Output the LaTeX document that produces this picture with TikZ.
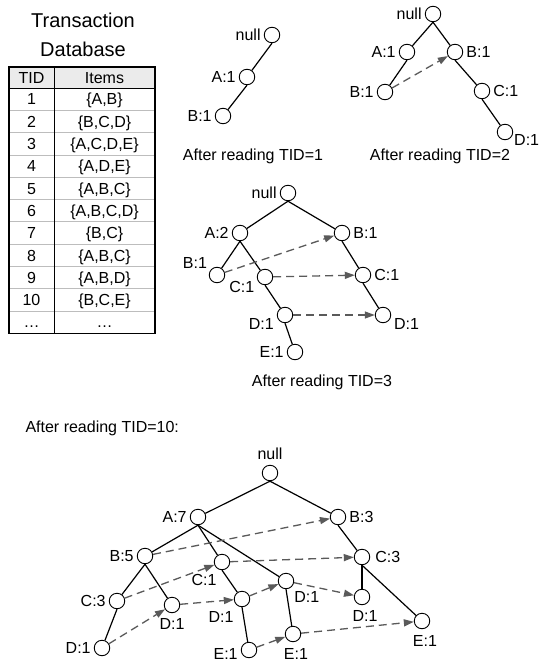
\documentclass[tikz,border=0pt]{standalone}
\usepackage{fontspec}
\setmainfont{Liberation Sans}
\usetikzlibrary{arrows.meta}
\definecolor{linkgray}{HTML}{5A5A5A}
\definecolor{headgray}{HTML}{EBEBEB}
\definecolor{rulegray}{HTML}{BDBDBD}
\begin{document}
\begin{tikzpicture}[x=1pt,y=-1pt,
  every node/.style={font=\fontsize{16}{19}\selectfont},
  vtx/.style={draw,circle,minimum size=15.5pt,inner sep=0pt,line width=0.9pt,fill=white},
  every label/.style={inner sep=1pt},label distance=2pt,
  tedge/.style={line width=1.2pt},
  link/.style={draw=linkgray,line width=1.3pt,dash pattern=on 8pt off 5pt,-{Triangle[length=10pt,width=7pt]}},
  cell/.style={inner sep=0pt,text height=11.5pt,text depth=0pt}]
  \useasboundingbox (0,0) rectangle (541,666);

  % transaction database
  \node[font=\fontsize{20}{29}\selectfont,align=center] (title) at (83,35) {Transaction\\Database};
  \fill[headgray] (9,67) rectangle (155,88);
  \foreach \i in {1,...,10} \draw[rulegray,line width=0.8pt] (9,88+22.3*\i) -- (155,88+22.3*\i);
  \draw[line width=0.8pt] (9,88) -- (155,88);
  \draw[line width=1pt] (54,67) -- (54,333.3);
  \draw[line width=1.5pt] (9,67) rectangle (155,333.3);
  \node[cell] (tidh) at (31.5,77.5) {TID};
  \node[cell] (itemsh) at (104.5,77.5) {Items};
  \foreach \t/\s [count=\k] in {1/{\{A,B\}},2/{\{B,C,D\}},3/{\{A,C,D,E\}},4/{\{A,D,E\}},5/{\{A,B,C\}},
      6/{\{A,B,C,D\}},7/{\{B,C\}},8/{\{A,B,C\}},9/{\{A,B,D\}},10/{\{B,C,E\}},…/…}
  {
    \node[cell] (tid\k) at (31.5,76.9+22.3*\k) {\t};
    \node[cell] (items\k) at (104.5,76.9+22.3*\k) {\s};
  }

  % after TID=1
  \node[vtx,label=left:null] (t1null) at (272,35) {};
  \node[vtx,label=left:A:1] (t1a) at (247,77) {};
  \node[vtx,label=left:B:1] (t1ab) at (223,116) {};
  \draw[tedge] (t1null.south) -- (t1a);
  \draw[tedge] (t1a.south) -- (t1ab);
  \node (cap1) at (253,156) {After reading TID=1};

  % after TID=2
  \node[vtx,label=left:null] (t2null) at (433,14) {};
  \node[vtx,label=left:A:1] (t2a) at (407,52) {};
  \node[vtx,label=right:B:1] (t2b) at (455,52) {};
  \node[vtx,label=left:B:1] (t2ab) at (385,92) {};
  \node[vtx,label=right:C:1] (t2bc) at (482,91) {};
  \node[vtx,label={[label distance=0pt]-12:D:1}] (t2bcd) at (505,132) {};
  \draw[tedge] (t2null.south) -- (t2a);
  \draw[tedge] (t2null.south) -- (t2b);
  \draw[tedge] (t2a.south) -- (t2ab);
  \draw[tedge] (t2b.south) -- (t2bc);
  \draw[tedge] (t2bc.south) -- (t2bcd);
  \draw[link] (t2ab) -- (t2b);
  \node (cap2) at (440,156) {After reading TID=2};

  % after TID=3
  \node[vtx,label=left:null] (t3null) at (288,193) {};
  \node[vtx,label=left:A:2] (t3a) at (240,233) {};
  \node[vtx,label=right:B:1] (t3b) at (342,233) {};
  \node[vtx,label=150:B:1] (t3ab) at (217,275) {};
  \node[vtx,label=200:C:1] (t3ac) at (265,277) {};
  \node[vtx,label=192:D:1] (t3acd) at (285,315) {};
  \node[vtx,label=left:E:1] (t3acde) at (295,352) {};
  \node[vtx,label=right:C:1] (t3bc) at (363,275) {};
  \node[vtx,label=-12:D:1] (t3bcd) at (383,315) {};
  \draw[tedge] (t3null.south) -- (t3a);
  \draw[tedge] (t3null.south) -- (t3b);
  \draw[tedge] (t3a.south) -- (t3ab);
  \draw[tedge] (t3a.south) -- (t3ac);
  \draw[tedge] (t3ac.south) -- (t3acd);
  \draw[tedge] (t3acd.south) -- (t3acde);
  \draw[tedge] (t3b.south) -- (t3bc);
  \draw[tedge] (t3bc.south) -- (t3bcd);
  \draw[link] (t3ab) -- (t3b);
  \draw[link] (t3ac) -- (t3bc);
  \draw[link] (t3acd) -- (t3bcd);
  \node (cap3) at (322,382) {After reading TID=3};

  % after TID=10
  \node[anchor=west] (cap10) at (22,428) {After reading TID=10:};
  \node[vtx,label={[label distance=4pt]above:null}] (t4null) at (270,473) {};
  \node[vtx,label=left:A:7] (t4a) at (198,517) {};
  \node[vtx,label=right:B:3] (t4b) at (338,517) {};
  \node[vtx,label=left:B:5] (t4ab) at (145,556) {};
  \node[vtx,label={[xshift=3pt,yshift=-4pt]below left:C:1}] (t4ac) at (222,562) {};
  \node[vtx,label={[yshift=-2pt]below right:D:1}] (t4ad) at (286,581) {};
  \node[vtx,label={[label distance=4pt]right:C:3}] (t4bc) at (362,557) {};
  \node[vtx,label=left:C:3] (t4abc) at (117,601) {};
  \node[vtx,label={[label distance=4pt]below:D:1}] (t4abd) at (172,605) {};
  \node[vtx,label=left:D:1] (t4abcd) at (102,648) {};
  \node[vtx,label={[yshift=-4pt]below left:D:1}] (t4acd) at (242,599) {};
  \node[vtx,label={[yshift=-4pt]left:E:1}] (t4acde) at (249,650) {};
  \node[vtx,label={[label distance=5pt,xshift=3pt]below:E:1}] (t4ade) at (293,634) {};
  \node[vtx,label={[label distance=4pt,xshift=3pt]below:D:1}] (t4bcd) at (362,597) {};
  \node[vtx,label={[label distance=5pt,xshift=3pt]below:E:1}] (t4bce) at (422,621) {};
  \draw[tedge] (t4null.south) -- (t4a);
  \draw[tedge] (t4null.south) -- (t4b);
  \draw[tedge] (t4a.south) -- (t4ab);
  \draw[tedge] (t4a.south) -- (t4ac);
  \draw[tedge] (t4a.south) -- (t4ad);
  \draw[tedge] (t4ab.south) -- (t4abc);
  \draw[tedge] (t4ab.south) -- (t4abd);
  \draw[tedge] (t4abc.south) -- (t4abcd);
  \draw[tedge] (t4ac.south) -- (t4acd);
  \draw[tedge] (t4acd.south) -- (t4acde);
  \draw[tedge] (t4ad.south) -- (t4ade);
  \draw[tedge] (t4b.south) -- (t4bc);
  \draw[tedge] (t4bc.south) -- (t4bcd);
  \draw[tedge] (t4bc.south) -- (t4bce);
  \draw[link] (t4ab) -- (t4b);
  \draw[link] (t4abc) -- (t4ac);
  \draw[link] (t4ac) -- (t4bc);
  \draw[link] (t4abcd) -- (t4abd);
  \draw[link] (t4abd) -- (t4acd);
  \draw[link] (t4acd) -- (t4ad);
  \draw[link] (t4ad) -- (t4bcd);
  \draw[link] (t4acde) -- (t4ade);
  \draw[link] (t4ade) -- (t4bce);
\end{tikzpicture}
\end{document}
